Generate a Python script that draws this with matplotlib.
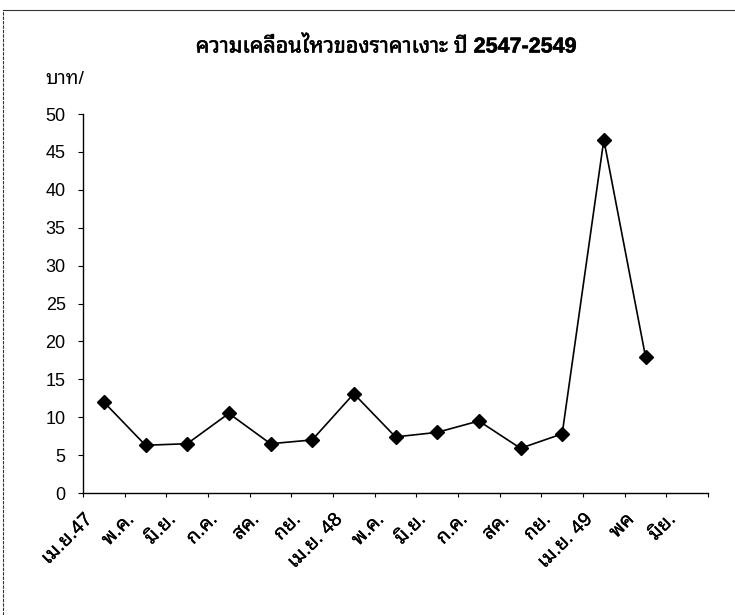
import matplotlib
matplotlib.use("Agg")
import matplotlib.pyplot as plt
import matplotlib.transforms as mtransforms
import matplotlib.patheffects as pe
from matplotlib.lines import Line2D
import numpy as np

plt.rcParams['font.family'] = ['Liberation Sans', 'Noto Sans Thai Looped', 'Noto Sans Thai', 'DejaVu Sans']

title = "ความเคลื่อนไหวของราคาเงาะ ปี 2547-2549"
unit_label = "บาท/"
categories = ["เม.ย.47", "พ.ค.", "มิ.ย.", "ก.ค.", "สค.", "กย.", "เม.ย. 48",
              "พ.ค.", "มิ.ย.", "ก.ค.", "สค.", "กย.", "เม.ย. 49", "พค", "มิย."]
prices = [12.0, 6.3, 6.5, 10.5, 6.5, 7.0, 13.1, 7.4, 8.0, 9.5, 5.9, 7.8, 46.6, 18.0, np.nan]
yticks = [0, 5, 10, 15, 20, 25, 30, 35, 40, 45, 50]

fig = plt.figure(figsize=(7.35, 6.15), dpi=100)
ax = fig.add_axes([83/735, 1 - 493/615, 625/735, 379/615])

x = np.arange(len(categories)) + 0.5
ax.plot(x, prices, color='black', lw=1.2, marker='D', ms=7.5,
        markerfacecolor='black', markeredgecolor='black')

ax.set_xlim(0, len(categories))
ax.set_ylim(0, 50)
ax.set_yticks(yticks)
ax.set_yticklabels([str(v) for v in yticks])

# tick marks at category boundaries, labels at centres
ax.set_xticks(np.arange(len(categories) + 1))
ax.set_xticklabels([])
ax.set_xticks(x, minor=True)
ax.set_xticklabels(categories, minor=True, rotation=45, ha='right', fontsize=14)
ax.tick_params(axis='x', which='minor', length=0, pad=13)
ax.tick_params(axis='x', which='major', length=3, direction='out', width=0.8)
ax.tick_params(axis='y', length=3.5, direction='out', width=0.8, labelsize=13, pad=9)

offset = mtransforms.ScaledTranslation(-8/100, 0, fig.dpi_scale_trans)
for lbl in ax.get_xticklabels(minor=True):
    lbl.set_transform(lbl.get_transform() + offset)
    lbl.set_path_effects([pe.withStroke(linewidth=0.2, foreground='black')])

for s in ['top', 'right']:
    ax.spines[s].set_visible(False)
for s in ['left', 'bottom']:
    ax.spines[s].set_color('black')
    ax.spines[s].set_linewidth(1.0)

fig.text(386/735, 1 - 47/615, title, ha='center', va='center', fontsize=15.5, fontweight='bold',
         path_effects=[pe.withStroke(linewidth=0.4, foreground='black')])
fig.text(45/735, 1 - 80/615, unit_label, ha='left', va='center', fontsize=14)

# chart-area border (left and top edges visible in the scan)
fig.add_artist(Line2D([3/735, 3/735], [0, 1 - 10/615], transform=fig.transFigure,
                      color='#333333', lw=0.8, ls=(0, (3, 1))))
fig.add_artist(Line2D([3/735, 1], [1 - 10/615, 1 - 10/615], transform=fig.transFigure,
                      color='#333333', lw=0.8))

fig.savefig("out.png", dpi=100)
